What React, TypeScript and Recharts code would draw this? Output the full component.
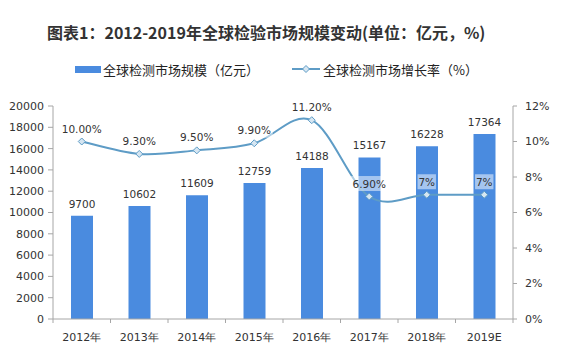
import React from 'react';
import { ComposedChart, Bar, Line, XAxis, YAxis, LabelList } from 'recharts';

const years = ['2012年', '2013年', '2014年', '2015年', '2016年', '2017年', '2018年', '2019E'];
const marketSize = [9700, 10602, 11609, 12759, 14188, 15167, 16228, 17364];
const growthRate = [10.0, 9.3, 9.5, 9.9, 11.2, 6.9, 7, 7];
const growthLabels = ['10.00%', '9.30%', '9.50%', '9.90%', '11.20%', '6.90%', '7%', '7%'];
const leftTicks = [0, 2000, 4000, 6000, 8000, 10000, 12000, 14000, 16000, 18000, 20000];
const rightTicks = [0, 2, 4, 6, 8, 10, 12];

const data = years.map((year, i) => ({
  year,
  size: marketSize[i],
  rate: growthRate[i],
  rateLabel: growthLabels[i],
}));

const W = 561;
const H = 357;
const PLOT_LEFT = 53;
const PLOT_RIGHT = 513;
const BAND = (PLOT_RIGHT - PLOT_LEFT) / years.length;

const FONT = '"DejaVu Sans", Verdana, sans-serif';
const CJK = '"Noto Sans CJK SC", "Microsoft YaHei", sans-serif';
const BAR_COLOR = '#4A8BDF';
const LINE_COLOR = '#5E9CC6';
const AXIS_COLOR = '#A6A6A6';
const TEXT_COLOR = '#333';

// Excel-like smooth line (Catmull-Rom through the points)
function smoothCurve(context: any) {
  let pts: [number, number][] = [];
  return {
    areaStart() {},
    areaEnd() {},
    lineStart() {
      pts = [];
    },
    point(x: number, y: number) {
      pts.push([+x, +y]);
    },
    lineEnd() {
      if (!pts.length) return;
      context.moveTo(pts[0][0], pts[0][1]);
      for (let i = 0; i < pts.length - 1; i++) {
        const p0 = pts[i - 1] || pts[i];
        const p1 = pts[i];
        const p2 = pts[i + 1];
        const p3 = pts[i + 2] || p2;
        context.bezierCurveTo(
          p1[0] + (p2[0] - p0[0]) / 6,
          p1[1] + (p2[1] - p0[1]) / 6,
          p2[0] - (p3[0] - p1[0]) / 6,
          p2[1] - (p3[1] - p1[1]) / 6,
          p2[0],
          p2[1]
        );
      }
    },
  };
}

const XTick = (props: any) => {
  const { x, y, payload, index } = props;
  const last = index === years.length - 1;
  return (
    <g>
      <line x1={x - BAND / 2} y1={y} x2={x - BAND / 2} y2={y + 4} stroke={AXIS_COLOR} />
      {last && <line x1={x + BAND / 2} y1={y} x2={x + BAND / 2} y2={y + 4} stroke={AXIS_COLOR} />}
      <text
        x={x}
        y={y + 18}
        textAnchor="middle"
        dominantBaseline="central"
        fill={TEXT_COLOR}
        style={{ fontFamily: FONT, fontSize: 11 }}
      >
        {payload.value}
      </text>
    </g>
  );
};

const Diamond = (props: any) => {
  const { cx, cy } = props;
  if (cx == null || cy == null) return null;
  const r = 3.5;
  return (
    <polygon
      points={`${cx},${cy - r} ${cx + r},${cy} ${cx},${cy + r} ${cx - r},${cy}`}
      fill="#D6E6F2"
      stroke={LINE_COLOR}
      strokeWidth={1}
    />
  );
};

const RateLabel = (props: any) => {
  const { x, y, value } = props;
  const text = String(value);
  const w = text.length * 6.2 + 6;
  const cy = y - 13;
  return (
    <g>
      <rect x={x - w / 2} y={cy - 7.5} width={w} height={15} fill="#ffffff" fillOpacity={0.5} />
      <text
        x={x}
        y={cy}
        textAnchor="middle"
        dominantBaseline="central"
        fill={TEXT_COLOR}
        style={{ fontFamily: FONT, fontSize: 10.5 }}
      >
        {text}
      </text>
    </g>
  );
};

export default function App() {
  return (
    <div style={{ position: 'absolute', left: 0, top: 0, width: W, height: H, background: '#fff' }}>
      <div
        style={{
          position: 'absolute',
          left: 47,
          top: 21,
          fontFamily: CJK,
          fontWeight: 'bold',
          fontSize: 16,
          lineHeight: '22px',
          color: TEXT_COLOR,
          whiteSpace: 'nowrap',
        }}
      >
        图表1：2012-2019年全球检验市场规模变动(单位：亿元，%)
      </div>
      <div
        style={{
          position: 'absolute',
          left: 75,
          top: 59,
          height: 20,
          display: 'flex',
          alignItems: 'center',
          fontFamily: CJK,
          fontSize: 13,
          color: '#222',
          whiteSpace: 'nowrap',
        }}
      >
        <span style={{ display: 'inline-block', width: 26, height: 7, background: BAR_COLOR, marginRight: 2 }} />
        <span>全球检测市场规模（亿元）</span>
        <svg width={28} height={12} style={{ marginLeft: 33, marginRight: 3 }}>
          <line x1={0} y1={6} x2={28} y2={6} stroke={LINE_COLOR} strokeWidth={2} />
          <polygon points="14,2.5 17.5,6 14,9.5 10.5,6" fill="#D6E6F2" stroke={LINE_COLOR} strokeWidth={1} />
        </svg>
        <span>全球检测市场增长率（%）</span>
      </div>
      <ComposedChart
        width={W}
        height={H}
        data={data}
        margin={{ top: 106, right: 0, bottom: 8, left: 8 }}
        style={{ position: 'absolute', left: 0, top: 0 }}
      >
        <XAxis
          dataKey="year"
          height={30}
          tickLine={false}
          tickSize={0}
          tickMargin={0}
          axisLine={{ stroke: AXIS_COLOR }}
          tick={<XTick />}
          interval={0}
        />
        <YAxis
          yAxisId="left"
          width={45}
          domain={[0, 20000]}
          ticks={leftTicks}
          interval={0}
          tickSize={5}
          tickMargin={4}
          axisLine={{ stroke: AXIS_COLOR }}
          tickLine={{ stroke: AXIS_COLOR }}
          tick={{ fill: TEXT_COLOR, fontSize: 11, fontFamily: FONT }}
        />
        <YAxis
          yAxisId="right"
          orientation="right"
          width={48}
          domain={[0, 12]}
          ticks={rightTicks}
          interval={0}
          tickSize={4}
          tickMargin={8}
          tickFormatter={(v: number) => `${v}%`}
          axisLine={{ stroke: AXIS_COLOR }}
          tickLine={{ stroke: AXIS_COLOR }}
          tick={{ fill: TEXT_COLOR, fontSize: 11, fontFamily: FONT, textAnchor: 'start' }}
        />
        <Bar yAxisId="left" dataKey="size" fill={BAR_COLOR} barSize={22} isAnimationActive={false}>
          <LabelList
            dataKey="size"
            position="top"
            offset={8}
            fill={TEXT_COLOR}
            style={{ fontFamily: FONT, fontSize: 10.5 }}
          />
        </Bar>
        <Line
          yAxisId="right"
          dataKey="rate"
          type={smoothCurve as any}
          stroke={LINE_COLOR}
          strokeWidth={2}
          dot={<Diamond />}
          activeDot={false}
          isAnimationActive={false}
        >
          <LabelList dataKey="rateLabel" content={<RateLabel />} />
        </Line>
      </ComposedChart>
    </div>
  );
}
